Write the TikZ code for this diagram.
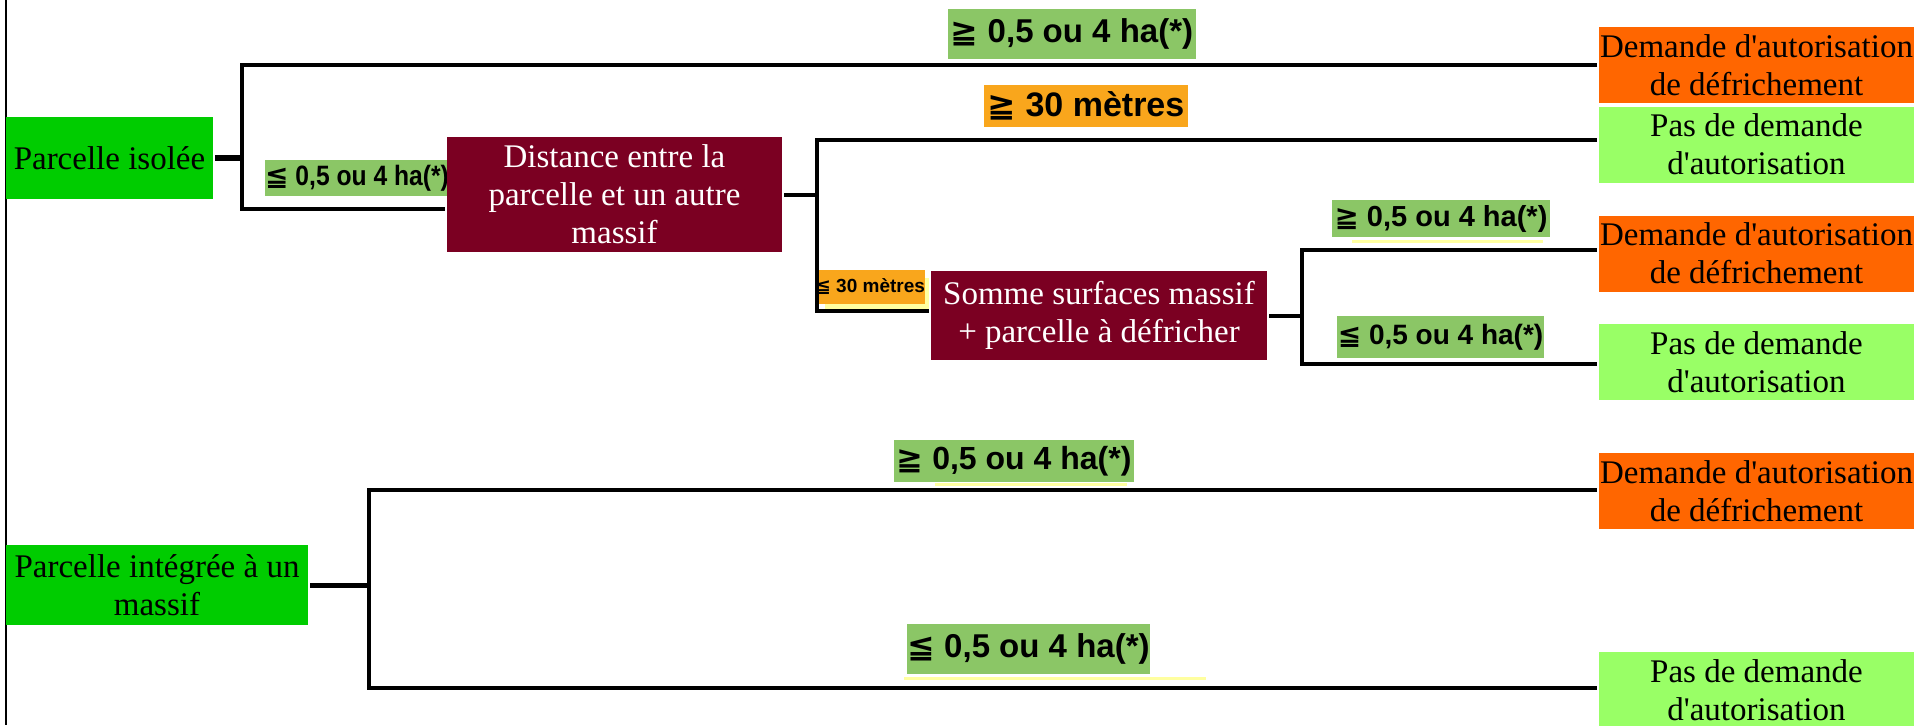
\documentclass[tikz,border=0pt]{standalone}
\usepackage{fontspec}
\setmainfont{Liberation Serif}[Ligatures=TeXOff]
\newfontfamily\lblfont{Liberation Sans}
\newfontfamily\lblnarrow{Liberation Sans}[FakeStretch=0.88]
\newfontfamily\symfont{DejaVu Sans}
\definecolor{parcgreen}{RGB}{0,204,0}
\definecolor{lblgreen}{RGB}{139,198,102}
\definecolor{lblorange}{RGB}{249,166,28}
\definecolor{demorange}{RGB}{255,102,0}
\definecolor{pasgreen}{RGB}{153,255,102}
\definecolor{wine}{RGB}{123,0,34}
\definecolor{paleyellow}{RGB}{255,255,160}
\newcommand{\sgeq}{{\symfont ≧}}
\newcommand{\sleq}{{\symfont ≦}}
\begin{document}
\begin{tikzpicture}[
        x = .5pt,
        y = -.5pt,
        line width = 2pt,
        box/.style = {inner sep = 0pt, align = center, font = \fontsize{16.5}{19}\selectfont},
        parc/.style = {box, fill = parcgreen},
        dem/.style = {box, fill = demorange, minimum width = 157.5pt, minimum height = 38pt},
        pas/.style = {box, fill = pasgreen, minimum width = 157.5pt, minimum height = 38pt},
        crit/.style = {box, fill = wine, text = white},
        lbl/.style = {inner sep = 0pt, fill = lblgreen, font = \lblfont\bfseries\fontsize{#1}{#1}\selectfont},
        lblo/.style = {lbl = #1, fill = lblorange}
    ]
        \useasboundingbox (0,0) rectangle (1929,725);
        \draw[line width = .75pt] (6,0)--(6,725);

        \node[parc, minimum width = 103.5pt, minimum height = 41pt] (isole) at (109.5,158) {Parcelle isolée};
        \node[lbl = 16.5, minimum width = 124pt, minimum height = 25pt] (ge1) at (1072,33.5) {\sgeq\ 0,5 ou 4 ha(*)};
        \node[dem] (dem1) at (1756.5,65) {Demande d'autorisation\\de défrichement};
        \node[lbl = 14, font = \lblnarrow\bfseries\fontsize{14}{14}\selectfont, minimum width = 92pt, minimum height = 18pt] (le1) at (357,178) {\sleq\ 0,5 ou 4 ha(*)};
        \node[crit, minimum width = 167.5pt, minimum height = 57.5pt] (dist) at (614.5,194.5) {Distance entre la\\parcelle et un autre\\massif};
        \node[lblo = 17, minimum width = 102pt, minimum height = 21pt] (ge30) at (1086,106) {\sgeq\ 30 mètres};
        \node[pas] (pas1) at (1756.5,144.5) {Pas de demande\\d'autorisation};
        \fill[paleyellow] (825,278) rectangle (929,309);
        \node[lblo = 9.5, minimum width = 53pt, minimum height = 17pt] (le30) at (870,287) {\sleq\ 30 mètres};
        \node[crit, minimum width = 168pt, minimum height = 44.5pt] (somme) at (1099,315.5) {Somme surfaces massif\\+ parcelle à défricher};
        \draw[paleyellow, line width = 1.5pt] (1352,241)--(1543,241);
        \node[lbl = 14.5, minimum width = 109pt, minimum height = 18.5pt] (ge2) at (1441,218.5) {\sgeq\ 0,5 ou 4 ha(*)};
        \node[dem] (dem2) at (1756.5,253.5) {Demande d'autorisation\\de défrichement};
        \node[lbl = 14, minimum width = 103.5pt, minimum height = 21pt] (le2) at (1440.5,337) {\sleq\ 0,5 ou 4 ha(*)};
        \node[pas] (pas2) at (1756.5,362) {Pas de demande\\d'autorisation};

        \node[parc, minimum width = 151pt, minimum height = 40pt] (integre) at (157,585) {Parcelle intégrée à un\\massif};
        \draw[paleyellow, line width = 1.5pt] (935,484)--(1127,484);
        \node[lbl = 16, minimum width = 120pt, minimum height = 21pt] (ge3) at (1014,461) {\sgeq\ 0,5 ou 4 ha(*)};
        \node[dem] (dem3) at (1756.5,491) {Demande d'autorisation\\de défrichement};
        \draw[paleyellow, line width = 1.5pt] (904,678)--(1206,678);
        \node[lbl = 16.5, minimum width = 121.5pt, minimum height = 25pt] (le3) at (1028.5,649) {\sleq\ 0,5 ou 4 ha(*)};
        \node[pas] (pas3) at (1756.5,690) {Pas de demande\\d'autorisation};

        \coordinate (f1) at (242,158);
        \coordinate (f1t) at (242,65);
        \coordinate (f1b) at (242,209);
        \draw[line width = 3pt] (isole)--(f1);
        \draw (dem1.west)--(f1t)--(f1b)--(f1b -| dist.west);

        \coordinate (f2t) at (817,140);
        \coordinate (f2b) at (817,311);
        \draw (dist.east)--(dist.east -| f2t);
        \draw (f2t -| pas1.west)--(f2t)--(f2b)--(f2b -| somme.west);

        \coordinate (f3t) at (1302,250);
        \coordinate (f3b) at (1302,364);
        \draw (somme.east)--(somme.east -| f3t);
        \draw (f3t -| dem2.west)--(f3t)--(f3b)--(f3b -| pas2.west);

        \coordinate (f4t) at (369,490);
        \coordinate (f4b) at (369,688);
        \draw[line width = 2.5pt] (integre.east)--(integre.east -| f4t);
        \draw (f4t -| dem3.west)--(f4t)--(f4b)--(f4b -| pas3.west);
    \end{tikzpicture}
\end{document}
